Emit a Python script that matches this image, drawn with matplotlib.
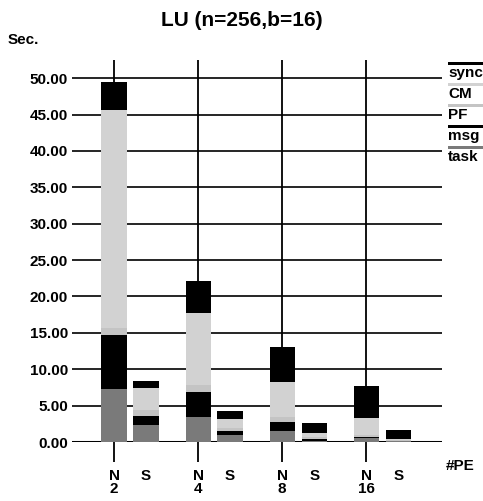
import numpy as np
import matplotlib
matplotlib.use('Agg')
import matplotlib.pyplot as plt
from matplotlib.patches import Rectangle

plt.rcParams['font.family'] = ['Liberation Sans', 'DejaVu Sans']
plt.rcParams['font.weight'] = 'bold'

pes = ['2', '4', '8', '16']
kinds = ['N', 'S']
layers = ['task', 'msg', 'PF', 'CM', 'sync']
legend_order = ['sync', 'CM', 'PF', 'msg', 'task']

# seconds per component, bars ordered N2, S2, N4, S4, N8, S8, N16, S16
task = [7.3, 2.3, 3.4, 0.95, 1.55, 0.2, 0.5, 0.1]
msg = [7.4, 1.3, 3.5, 0.6, 1.15, 0.2, 0.2, 0.1]
pf = [1.0, 0.8, 1.0, 0.4, 0.8, 0.3, 0.3, 0.05]
cm = [29.9, 3.0, 9.8, 1.25, 4.8, 0.6, 2.35, 0.1]
sync = [3.9, 1.0, 4.4, 1.1, 4.7, 1.35, 4.35, 1.3]

yticks = [0, 5, 10, 15, 20, 25, 30, 35, 40, 45, 50]

colors = {'task': '#7a7a7a', 'msg': '#000000', 'PF': '#c4c4c4',
          'CM': '#d2d2d2', 'sync': '#000000'}
values = {'task': task, 'msg': msg, 'PF': pf, 'CM': cm, 'sync': sync}

W, H = 483, 501
fig = plt.figure(figsize=(W / 100, H / 100), dpi=100)
ax = fig.add_axes([72 / W, 1 - 442 / H, 370 / W, (442 - 60) / H])

grp = np.arange(len(pes))
xpos = []
for g in grp:
    xpos.append(g)
    xpos.append(g + 0.38)
xpos = np.array(xpos)

# separators through N bars
ax.vlines(grp, -2.7, 52.5, colors='black', lw=1.3, clip_on=False, zorder=1)
for t in yticks:
    ax.axhline(t, color='black', lw=2.2 if t == 0 else 1.2, zorder=1)

bottom = np.zeros(len(xpos))
for name in layers:
    v = np.array(values[name])
    ax.bar(xpos, v, width=0.3, bottom=bottom, color=colors[name],
           edgecolor='none', zorder=2)
    bottom += v

ax.set_xlim(-0.5, 3.9)
ax.set_ylim(0, 52.5)
ax.set_yticks(yticks)
ax.set_yticklabels(['%.2f' % t for t in yticks], fontsize=11, fontweight='bold')
ax.tick_params(axis='y', length=0, pad=3)
ax.set_xticks([])
for s in ax.spines.values():
    s.set_visible(False)

# x labels
for i, x in enumerate(xpos):
    g = i // 2
    k = kinds[i % 2]
    lab = k + '\n' + pes[g] if k == 'N' else k
    ax.text(x, -3.7, lab, ha='center', va='top', fontsize=11,
            fontweight='bold', linespacing=0.95)

fig.text(242 / W, 1 - 20 / H, 'LU (n=256,b=16)', ha='center', va='center',
         fontsize=15, fontweight='bold')
fig.text(8 / W, 1 - 40 / H, 'Sec.', ha='left', va='center', fontsize=11,
         fontweight='bold')
fig.text(446 / W, 1 - 466 / H, '#PE', ha='left', va='center', fontsize=11,
         fontweight='bold')

# legend
for j, name in enumerate(legend_order):
    yc = 72 + j * 21
    fig.patches.append(Rectangle((448 / W, 1 - (yc - 7) / H), 40 / W, 3.5 / H,
                                 transform=fig.transFigure,
                                 facecolor=colors[name], edgecolor='none'))
    fig.text(448 / W, 1 - (yc + 1) / H, name, ha='left', va='center',
             fontsize=11, fontweight='bold')

fig.savefig('out.png', dpi=100)
